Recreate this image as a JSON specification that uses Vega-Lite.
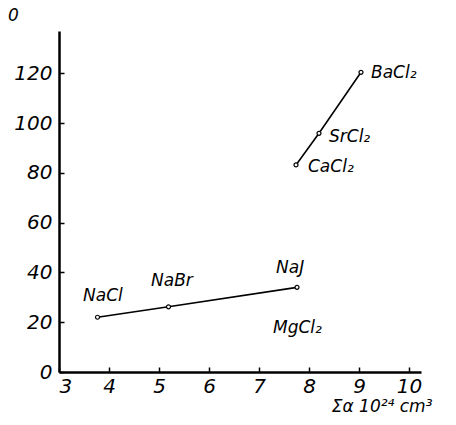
{
  "$schema": "https://vega.github.io/schema/vega-lite/v6.json",
  "width": 362,
  "height": 341,
  "autosize": "none",
  "padding": {"left": 59, "top": 31, "right": 35, "bottom": 53},
  "background": "white",
  "config": {
    "view": {"stroke": null},
    "font": "DejaVu Sans",
    "axis": {
      "grid": false,
      "domainColor": "black",
      "domainWidth": 2.5,
      "tickColor": "black",
      "tickWidth": 1.5,
      "tickSize": -5,
      "labelColor": "black",
      "labelFont": "DejaVu Sans",
      "labelFontStyle": "italic",
      "labelFontSize": 20,
      "titleColor": "black"
    }
  },
  "datasets": {
    "pts": [
      {"salt": "NaCl", "group": "Na", "alpha": 3.77, "v": 22.0},
      {"salt": "NaBr", "group": "Na", "alpha": 5.19, "v": 26.2},
      {"salt": "NaJ", "group": "Na", "alpha": 7.76, "v": 34.0},
      {"salt": "CaCl2", "group": "AE", "alpha": 7.74, "v": 83.2},
      {"salt": "SrCl2", "group": "AE", "alpha": 8.2, "v": 95.9},
      {"salt": "BaCl2", "group": "AE", "alpha": 9.04, "v": 120.4}
    ],
    "labels": [
      {"text": "NaCl", "lx": 3.48, "ly": 30.5},
      {"text": "NaBr", "lx": 4.84, "ly": 36.6},
      {"text": "NaJ", "lx": 7.34, "ly": 41.8},
      {"text": "MgCl₂", "lx": 7.28, "ly": 17.7},
      {"text": "BaCl₂", "lx": 9.24, "ly": 120.1},
      {"text": "SrCl₂", "lx": 8.4, "ly": 94.4},
      {"text": "CaCl₂", "lx": 7.98, "ly": 82.4},
      {"text": "0", "lx": 1.98, "ly": 143.0}
    ]
  },
  "layer": [
    {
      "data": {"name": "pts"},
      "mark": {"type": "line", "color": "black", "strokeWidth": 1.6},
      "encoding": {
        "x": {
          "field": "alpha", "type": "quantitative",
          "scale": {"domain": [3, 10.24], "nice": false, "zero": false},
          "axis": {
            "values": [3, 4, 5, 6, 7, 8, 9, 10],
            "labelPadding": 9,
            "title": "Σα 10²⁴ cm³",
            "titleFont": "DejaVu Sans",
            "titleFontStyle": "italic",
            "titleFontWeight": "normal",
            "titleFontSize": 17,
            "titleAnchor": "end",
            "titleAlign": "right",
            "titleX": 373,
            "titleY": 26
          }
        },
        "y": {
          "field": "v", "type": "quantitative",
          "scale": {"domain": [0, 137], "nice": false},
          "axis": {"values": [0, 20, 40, 60, 80, 100, 120], "labelPadding": 12, "title": null}
        },
        "detail": {"field": "group"}
      }
    },
    {
      "data": {"name": "pts"},
      "mark": {"type": "point", "shape": "circle", "size": 16, "filled": true, "fill": "white", "stroke": "black", "strokeWidth": 1.2, "opacity": 1},
      "encoding": {
        "x": {"field": "alpha", "type": "quantitative"},
        "y": {"field": "v", "type": "quantitative"}
      }
    },
    {
      "data": {"name": "labels"},
      "mark": {"type": "text", "align": "left", "baseline": "middle", "fontSize": 17, "fontStyle": "italic", "color": "black", "clip": false},
      "encoding": {
        "x": {"field": "lx", "type": "quantitative"},
        "y": {"field": "ly", "type": "quantitative"},
        "text": {"field": "text"}
      }
    }
  ]
}
